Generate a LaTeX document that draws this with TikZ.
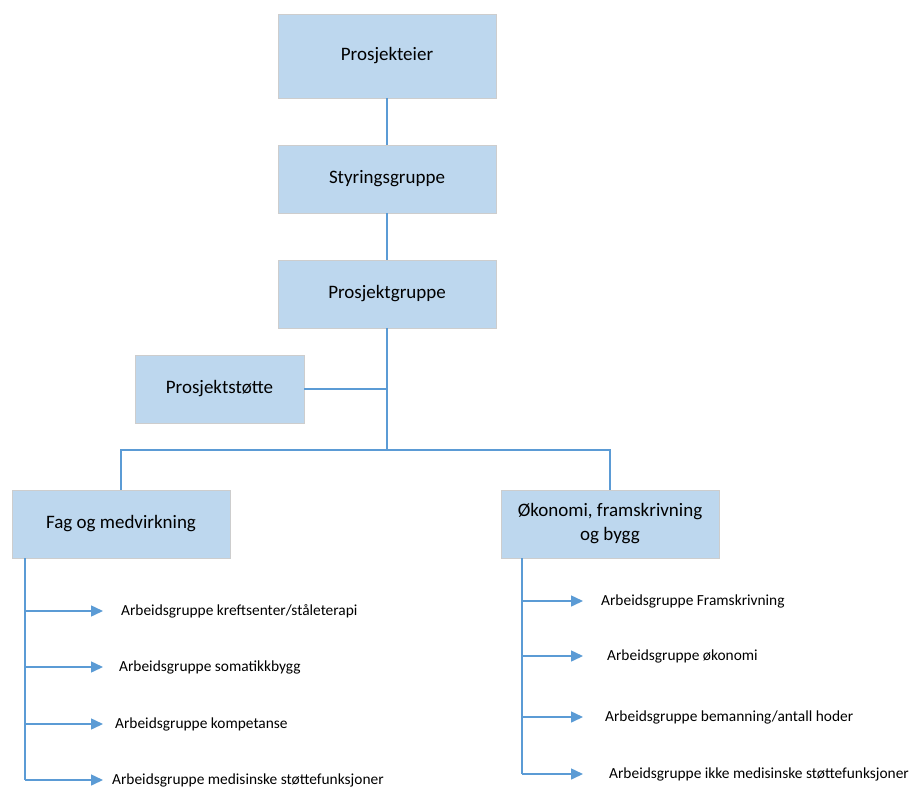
\documentclass[tikz,border=0pt]{standalone}
\usepackage{fontspec}
\setmainfont{Carlito}
\usetikzlibrary{arrows.meta}
\definecolor{boksblaa}{RGB}{189,215,238}
\definecolor{linjeblaa}{RGB}{91,155,213}
\definecolor{kant}{RGB}{205,205,205}
\tikzset{
  boks/.style={draw=kant,fill=boksblaa,minimum width=218pt,minimum height=68pt,
    inner sep=0pt,align=center,font=\fontsize{19}{24}\selectfont},
  linje/.style={draw=linjeblaa,line width=1.5pt},
  pil/.style={linje,-{Triangle[length=12pt,width=11pt]}},
  gruppe/.style={anchor=west,inner sep=0pt,font=\fontsize{15.4}{18}\selectfont},
}
\begin{document}
\begin{tikzpicture}[x=1pt,y=-1pt]
    \useasboundingbox (0,0) rectangle (910,787);
    % ledelse
    \node[boks,minimum height=84pt] (eier) at (387,56) {Prosjekteier};
    \node[boks] (styring) at (387,179) {Styringsgruppe};
    \node[boks] (prosjekt) at (387,294) {Prosjektgruppe};
    \node[boks,minimum width=169pt] (stotte) at (219.5,389) {Prosjektstøtte};
    \node[boks] (fag) at (121,524) {Fag og medvirkning};
    \node[boks] (okonomi) at (610,524) {Økonomi, framskrivning\\og bygg};
    \coordinate (knute) at (387,450);
        \draw[linje] (eier) -- (styring);
        \draw[linje] (styring) -- (prosjekt);
        \draw[linje] (prosjekt.south) -- (knute);
        \draw[linje] (stotte.east) -- (stotte.east -| knute);
        \draw[linje] (knute) -| (fag.north);
        \draw[linje] (knute) -| (okonomi.north);
    % arbeidsgrupper
    \foreach \y/\x/\navn/\tekst in {611/121/fa/{Arbeidsgruppe kreftsenter/ståleterapi},
        667/119/fb/{Arbeidsgruppe somatikkbygg},
        724/115/fc/{Arbeidsgruppe kompetanse},
        780/112/fd/{Arbeidsgruppe medisinske støttefunksjoner}}{
        \node[gruppe] (\navn) at (\x,\y) {\tekst};
        \coordinate (v\navn) at (25,\y);
        \coordinate (p\navn) at (103,\y);
        \draw[pil] (v\navn) -- (p\navn);
    }
    \foreach \y/\x/\navn/\tekst in {601/601/oa/{Arbeidsgruppe Framskrivning},
        656/607/ob/{Arbeidsgruppe økonomi},
        717/605/oc/{Arbeidsgruppe bemanning/antall hoder},
        774/609/od/{Arbeidsgruppe ikke medisinske støttefunksjoner}}{
        \node[gruppe] (\navn) at (\x,\y) {\tekst};
        \coordinate (v\navn) at (522,\y);
        \coordinate (p\navn) at (583,\y);
        \draw[pil] (v\navn) -- (p\navn);
    }
        \draw[linje] (fag.south -| vfd) -- (vfd);
        \draw[linje] (okonomi.south -| vod) -- (vod);
\end{tikzpicture}
\end{document}
